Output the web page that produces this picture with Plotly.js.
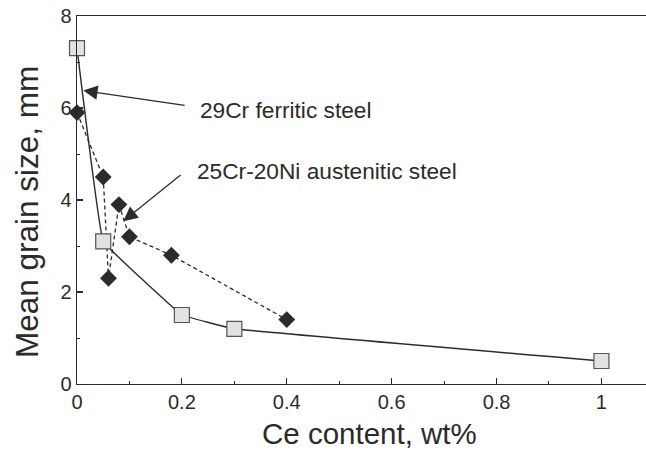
<!DOCTYPE html>
<html><head><meta charset="utf-8">
<script src="https://cdn.plot.ly/plotly-3.0.1.min.js"></script>
<style>html,body{margin:0;padding:0;background:#fff}#chart{width:646px;height:452px}</style>
</head><body><div id="chart"></div>
<script>
// Ferritic steel (29Cr): open squares, solid line
const ferriticCe = [0, 0.05, 0.2, 0.3, 1.0];
const ferriticGrain = [7.3, 3.1, 1.5, 1.2, 0.5];
// Austenitic steel (25Cr-20Ni): filled diamonds, dashed line
const austeniticCe = [0, 0.05, 0.06, 0.08, 0.1, 0.18, 0.4];
const austeniticGrain = [5.9, 4.5, 2.3, 3.9, 3.2, 2.8, 1.4];
const xTicks = [0, 0.2, 0.4, 0.6, 0.8, 1];
const xTickLabels = ['0', '0.2', '0.4', '0.6', '0.8', '1'];
const yTicks = [0, 2, 4, 6, 8];
const labels = ['29Cr ferritic steel', '25Cr-20Ni austenitic steel'];
const xTitle = 'Ce content, wt%';
const yTitle = 'Mean grain size, mm';

const ink = '#2b2b2b';
const font = 'Liberation Sans, Arial, sans-serif';

const traces = [
  {x: austeniticCe, y: austeniticGrain, mode: 'lines+markers', type: 'scatter',
   line: {color: ink, width: 1.3, dash: '4px,3px'},
   marker: {symbol: 'diamond', size: 13, color: ink, line: {color: ink, width: 0}},
   cliponaxis: false},
  {x: ferriticCe, y: ferriticGrain, mode: 'lines+markers', type: 'scatter',
   line: {color: ink, width: 1.4, shape: 'spline', smoothing: 0.15},
   marker: {symbol: 'square', size: 15, color: '#e2e2e2', line: {color: '#555', width: 1.2}},
   cliponaxis: false}
];

const layout = {
  width: 646, height: 452,
  margin: {l: 77, r: 0, t: 16, b: 68},
  paper_bgcolor: '#fff', plot_bgcolor: '#fff',
  showlegend: false,
  font: {family: font, color: ink},
  xaxis: {
    range: [0, 1.085], tickvals: xTicks, ticktext: xTickLabels,
    ticks: 'inside', ticklen: 6, tickwidth: 1.2, tickcolor: ink,
    minor: {dtick: 0.1, ticks: 'inside', ticklen: 3, tickcolor: ink, tickwidth: 1},
    showline: true, linecolor: ink, linewidth: 1.3, mirror: true,
    showgrid: false, zeroline: false,
    tickfont: {size: 20, family: font, color: ink}
  },
  yaxis: {
    range: [0, 8], tickvals: yTicks,
    ticks: 'inside', ticklen: 6, tickwidth: 1.2, tickcolor: ink,
    minor: {dtick: 1, ticks: 'inside', ticklen: 3, tickcolor: ink, tickwidth: 1},
    showline: true, linecolor: ink, linewidth: 1.3,
    showgrid: false, zeroline: false,
    tickfont: {size: 20, family: font, color: ink}
  },
  annotations: [
    {x: 0.012, y: 6.38, ax: 0.208, ay: 6.05, xref: 'x', yref: 'y', axref: 'x', ayref: 'y',
     text: '', showarrow: true, arrowhead: 2, arrowsize: 2.2, arrowwidth: 1.3, arrowcolor: ink, standoff: 0, startstandoff: 0},
    {x: 0.0883, y: 3.54, ax: 0.2004, ay: 4.57, xref: 'x', yref: 'y', axref: 'x', ayref: 'y',
     text: '', showarrow: true, arrowhead: 2, arrowsize: 2.2, arrowwidth: 1.3, arrowcolor: ink, standoff: 0, startstandoff: 0},
    {x: 0.231, y: 5.95, xref: 'x', yref: 'y', xanchor: 'left', yanchor: 'middle', showarrow: false,
     text: labels[0], font: {size: 22.7, family: font, color: ink}},
    {x: 0.225, y: 4.63, xref: 'x', yref: 'y', xanchor: 'left', yanchor: 'middle', showarrow: false,
     text: labels[1], font: {size: 22.7, family: font, color: ink}},
    {x: (370 - 77) / 569, y: -(433 - 384) / 368, xref: 'paper', yref: 'paper', xanchor: 'center', yanchor: 'middle',
     showarrow: false, text: xTitle, font: {size: 29.5, family: font, color: ink}, borderpad: 0},
    {x: -(77 - 27) / 569, y: (384 - 212) / 368, xref: 'paper', yref: 'paper', xanchor: 'center', yanchor: 'middle',
     showarrow: false, textangle: -90, text: yTitle, font: {size: 31.5, family: font, color: ink}}
  ]
};
Plotly.newPlot('chart', traces, layout, {displayModeBar: false, staticPlot: true});
</script></body></html>
